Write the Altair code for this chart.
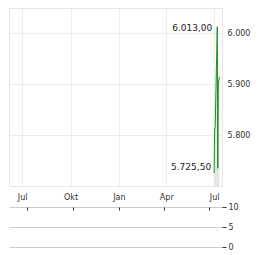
import json
import altair as alt
import pandas as pd

# ---- data ----
dates = ["2025-07-01", "2025-07-02", "2025-07-03", "2025-07-07", "2025-07-08", "2025-07-09", "2025-07-11"]
close = [5725.5, 5810.0, 5815.0, 6013.0, 5735.0, 5900.0, 5915.0]
volume = [0, 0, 0, 0, 0, 0, 0]
month_names = ["Jan", "Feb", "Mär", "Apr", "Mai", "Jun", "Jul", "Aug", "Sep", "Okt", "Nov", "Dez"]
tick_dates = [(2024, 7), (2024, 10), (2025, 1), (2025, 4), (2025, 7)]
price_ticks = [5800, 5900, 6000]
vol_ticks = [0, 5, 10]

df = pd.DataFrame({"date": dates, "close": close, "volume": volume})

FONT = "DejaVu Sans"
x_domain = [alt.DateTime(year=2024, month=6, date=6, utc=True),
            alt.DateTime(year=2025, month=7, date=16, utc=True)]
x_values = [alt.DateTime(year=y, month=m, date=1, utc=True) for y, m in tick_dates]
xscale = alt.Scale(type="utc", domain=x_domain)
label_expr = json.dumps(month_names, ensure_ascii=False) + "[utcmonth(datum.value)]"

x_top = alt.X("date:T", scale=xscale, title=None,
              axis=alt.Axis(values=x_values, labelExpr=label_expr, grid=True, gridColor="#ececec",
                            domain=False, ticks=False, labelPadding=7, labelFontSize=8,
                            labelColor="#333", labelFont=FONT))

yscale = alt.Scale(domain=[5711, 6030], zero=False)
y_price = alt.Y("close:Q", scale=yscale, title=None,
                axis=alt.Axis(orient="right", values=price_ticks,
                              labelExpr="replace(format(datum.value, ','), ',', '.')",
                              grid=True, gridColor="#ececec", domain=False, ticks=False,
                              labelPadding=5, labelFontSize=8, labelColor="#333", labelFont=FONT))

base = alt.Chart(df).encode(x=x_top)
area = base.mark_area(color="#e2e9e2", clip=True).encode(y=y_price)
line = base.mark_line(color="#1f8f1f", strokeWidth=1, clip=True).encode(y=alt.Y("close:Q"))

fmt = ("replace(replace(replace(format(datum.close, ',.2f'), ',', '_'), '.', ','), '_', '.')")
txt_max = base.transform_joinaggregate(mx="max(close)").transform_filter(
    "datum.close == datum.mx").transform_calculate(lbl=fmt).mark_text(
    align="right", baseline="middle", dx=-5, dy=1, fontSize=9, color="#222", font=FONT
).encode(y=alt.Y("close:Q"), text="lbl:N")
txt_min = base.transform_joinaggregate(mn="min(close)").transform_filter(
    "datum.close == datum.mn").transform_calculate(lbl=fmt).mark_text(
    align="right", baseline="middle", dx=-3, dy=-6, fontSize=9, color="#222", font=FONT
).encode(y=alt.Y("close:Q"), text="lbl:N")

top = alt.layer(area, line, txt_max, txt_min).properties(
    width=213, height=178, view=alt.ViewBackground(stroke="#e6e6e6"))

bottom = alt.Chart(df, view=alt.ViewBackground(stroke="transparent")).mark_bar(color="#1f8f1f").encode(
    x=alt.X("date:T", scale=xscale, title=None,
            axis=alt.Axis(orient="top", values=x_values, labels=False, ticks=True, tickSize=3,
                          offset=-3, domain=False, grid=False, tickColor="#333")),
    y=alt.Y("volume:Q", scale=alt.Scale(domain=[0, 10]), title=None,
            axis=alt.Axis(orient="right", values=vol_ticks, grid=True, gridColor="#cccccc",
                          domain=False, tickSize=4, tickColor="#333", labelPadding=2,
                          labelFontSize=8, labelColor="#333", labelFont=FONT)),
).properties(width=213, height=40)

chart = alt.vconcat(top, bottom, spacing=0).properties(
    padding={"left": 8, "top": 7, "right": 0, "bottom": 0}
).configure(background="white", font=FONT)

chart.save("out.html", embed_options={"renderer": "svg", "actions": False})
